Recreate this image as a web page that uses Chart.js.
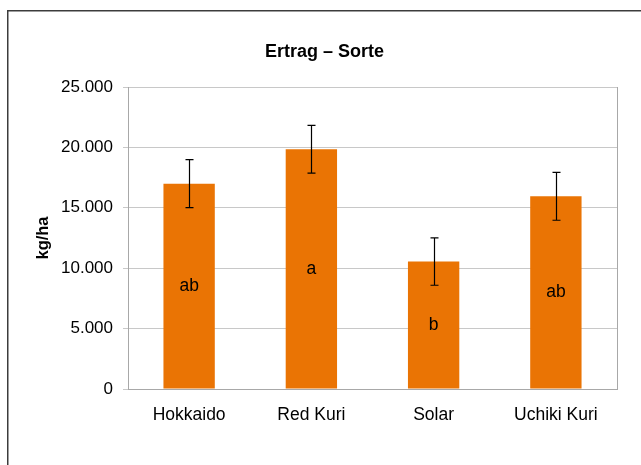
<!DOCTYPE html>
<html>
<head>
<meta charset="utf-8">
<script src="https://cdn.jsdelivr.net/npm/chart.js@4.4.1/dist/chart.umd.min.js"></script>
<style>
  html, body { margin: 0; padding: 0; background: #ffffff; }
  #wrap { position: relative; width: 641px; height: 465px; }
</style>
</head>
<body>
<div id="wrap"><canvas id="c" width="641" height="465"></canvas></div>
<script>
const categories = ["Hokkaido", "Red Kuri", "Solar", "Uchiki Kuri"];
const yieldValues = [17000, 19850, 10550, 15950];
const errorValues = [1980, 1980, 1960, 1980];
const groupLetters = ["ab", "a", "b", "ab"];
const yTicks = [0, 5000, 10000, 15000, 20000, 25000];

const FONT = "'Liberation Sans', Arial, Helvetica, sans-serif";

const framePlugin = {
  id: 'frame',
  beforeDraw(chart) {
    const ctx = chart.ctx;
    ctx.save();
    ctx.fillStyle = '#ffffff';
    ctx.fillRect(0, 0, chart.width, chart.height);
    ctx.strokeStyle = '#3c3c3c';
    ctx.lineWidth = 1.5;
    ctx.strokeRect(7.75, 10.75, 700, 500);
    ctx.fillStyle = '#000000';
    ctx.font = "bold 18px " + FONT;
    ctx.textAlign = 'center';
    ctx.textBaseline = 'middle';
    ctx.fillText('Ertrag \u2013 Sorte', 324.5, 52.5);
    ctx.restore();
  },
  afterDraw(chart) {
    const ctx = chart.ctx;
    const a = chart.chartArea;
    ctx.save();
    ctx.strokeStyle = '#a8a8a8';
    ctx.lineWidth = 1;
    ctx.beginPath();
    ctx.moveTo(Math.round(a.right) + 0.5, a.top);
    ctx.lineTo(Math.round(a.right) + 0.5, a.bottom);
    ctx.stroke();
    ctx.restore();
  }
};

const errorPlugin = {
  id: 'errbars',
  afterDatasetsDraw(chart) {
    const ctx = chart.ctx;
    const xs = chart.scales.x, ys = chart.scales.y;
    ctx.save();
    ctx.strokeStyle = '#000000';
    ctx.lineWidth = 1.2;
    yieldValues.forEach((v, i) => {
      const x = Math.round(xs.getPixelForValue(i)) + 0.5;
      const yt = ys.getPixelForValue(v + errorValues[i]);
      const yb = ys.getPixelForValue(v - errorValues[i]);
      ctx.beginPath();
      ctx.moveTo(x, yt); ctx.lineTo(x, yb);
      ctx.moveTo(x - 4, yt); ctx.lineTo(x + 4, yt);
      ctx.moveTo(x - 4, yb); ctx.lineTo(x + 4, yb);
      ctx.stroke();
    });
    ctx.fillStyle = '#000000';
    ctx.font = "17.5px " + FONT;
    ctx.textAlign = 'center';
    ctx.textBaseline = 'middle';
    yieldValues.forEach((v, i) => {
      const x = xs.getPixelForValue(i);
      const y = ys.getPixelForValue(v / 2);
      ctx.fillText(groupLetters[i], x, y);
    });
    ctx.restore();
  }
};

new Chart(document.getElementById('c'), {
  type: 'bar',
  data: {
    labels: categories,
    datasets: [{
      data: yieldValues,
      backgroundColor: '#EA7404',
      borderWidth: 0,
      categoryPercentage: 1.0,
      barPercentage: 0.42
    }]
  },
  options: {
    responsive: false,
    animation: false,
    devicePixelRatio: 1,
    layout: { padding: { left: 34, right: 24, top: 87, bottom: 0 } },
    plugins: {
      legend: { display: false },
      title: { display: false },
      tooltip: { enabled: false }
    },
    scales: {
      x: {
        grid: { display: false, drawTicks: false },
        border: { display: true, color: '#a8a8a8', width: 1 },
        ticks: { color: '#000000', font: { family: FONT, size: 17.5 }, padding: 16, maxRotation: 0 },
        afterFit(scale) { scale.height = 76; }
      },
      y: {
        min: 0,
        max: 25000,
        afterBuildTicks(scale) { scale.ticks = yTicks.map(v => ({ value: v })); },
        grid: { color: '#c8c8c8', lineWidth: 1, drawTicks: true, tickLength: 5 },
        border: { display: true, color: '#a8a8a8', width: 1 },
        ticks: {
          color: '#000000',
          font: { family: FONT, size: 17 },
          padding: 10,
          callback: (v) => v === 0 ? '0' : v.toLocaleString('de-DE')
        },
        title: {
          display: true,
          text: 'kg/ha',
          color: '#000000',
          font: { family: FONT, size: 16.5, weight: 'bold' },
          padding: { top: 0, bottom: 0 }
        },
        afterFit(scale) { scale.width = 94; }
      }
    }
  },
  plugins: [framePlugin, errorPlugin]
});
</script>
</body>
</html>
